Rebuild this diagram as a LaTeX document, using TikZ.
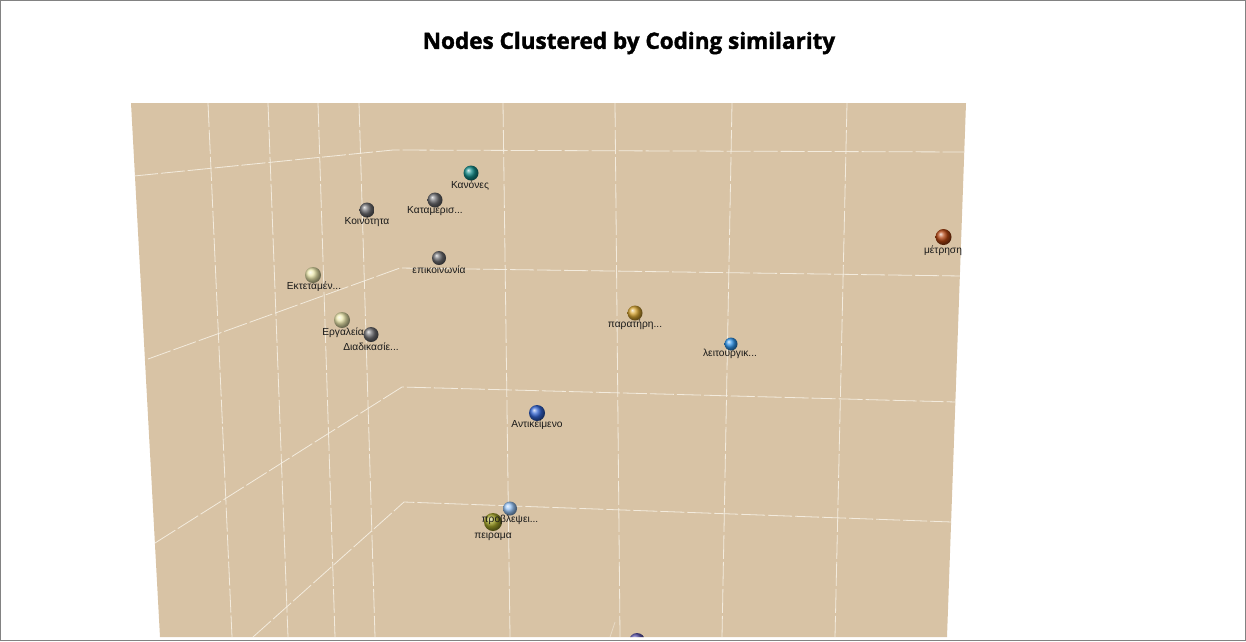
\documentclass[tikz,border=0pt]{standalone}
\usepackage{fontspec}
\setmainfont{Liberation Sans}
\newfontfamily\titlefont{Open Sans}[BoldFont={Open Sans Bold}, BoldFeatures={FakeBold=1.6}]
\definecolor{tanbg}{RGB}{216,195,165}
\definecolor{gridc}{RGB}{246,240,228}
\definecolor{frame}{RGB}{130,130,130}
\definecolor{cteal}{RGB}{20,140,138}
\definecolor{cgray}{RGB}{110,110,114}
\definecolor{cpale}{RGB}{236,232,172}
\definecolor{cgold}{RGB}{215,165,50}
\definecolor{cblue}{RGB}{50,150,235}
\definecolor{cbrown}{RGB}{180,70,18}
\definecolor{croyal}{RGB}{50,100,210}
\definecolor{clight}{RGB}{150,195,245}
\definecolor{colive}{RGB}{165,165,40}
\definecolor{cpurple}{RGB}{95,88,175}
\begin{document}
\begin{tikzpicture}[x=1pt,y=-1pt,
  gridline/.style={draw=gridc, line width=0.8pt, opacity=0.9, dash pattern=on 24pt off 3pt},
  sph/.style={circle, inner sep=0pt, minimum size=#1, ball color=cgray},
  lbl/.style={font=\fontsize{10.2}{11}\selectfont, text=black!90, inner sep=0pt},
  titlestyle/.style={font=\titlefont\bfseries\fontsize{22.5}{25}\selectfont, inner sep=0pt}]
\useasboundingbox (0,0) rectangle (1246,641);
\draw[frame, line width=0.8pt] (0.5,0.5) rectangle (1245.5,640.5);
\node[titlestyle] (title) at (629,43) {Nodes Clustered by Coding similarity};
% panel
\fill[tanbg] (131,103) -- (966,103) -- (947,637) -- (160,637) -- cycle;
\begin{scope}
\clip (131,103) -- (966,103) -- (947,637) -- (160,637) -- cycle;
% left wall verticals
\draw[gridline] (208,103) -- (232,637);
\draw[gridline] (268,103) -- (288,637);
\draw[gridline] (318,103) -- (335,637);
\draw[gridline] (359,103) -- (375,637);
% back wall verticals
\draw[gridline] (503,103) -- (510,637);
\draw[gridline] (615,103) -- (620,637);
\draw[gridline] (732,103) -- (722,637);
\draw[gridline] (847,103) -- (835,637);
% horizontals
\draw[gridline] (134,176) -- (393,150) -- (966,152);
\draw[gridline] (148,359) -- (400,268) -- (962,276);
\draw[gridline] (155,543) -- (402,387) -- (956,402);
\draw[gridline] (253,637) -- (404,502) -- (952,522);
\draw[gridline, opacity=0.5] (610,637) -- (615,622);
% bottom sphere (clipped)
\node[sph=16pt, ball color=cpurple] (bot) at (637,641) {};
\end{scope}
% spheres and labels
\node[sph=15pt, ball color=cteal] (kan) at (471,173) {};
\node[lbl] (kanl) at (470,186) {Κανόνες};
\node[sph=15pt] (kat) at (435,200) {};
\node[lbl] (katl) at (435,211.5) {Καταμερισ...};
\node[sph=15pt] (koi) at (367,210) {};
\node[lbl] (koil) at (367,222) {Κοινότητα};
\node[sph=14pt] (epi) at (439,258) {};
\node[lbl] (epil) at (439,269.5) {επικοινωνία};
\node[sph=16pt, ball color=cpale] (ekt) at (313,275) {};
\node[lbl] (ektl) at (314,287) {Εκτεταμέν...};
\node[sph=16pt, ball color=cpale] (erg) at (342,320) {};
\node[lbl] (ergl) at (343,333) {Εργαλεία};
\node[sph=15pt] (dia) at (371,334.5) {};
\node[lbl] (dial) at (371,347) {Διαδικασίε...};
\node[sph=15pt, ball color=cgold] (par) at (635,313) {};
\node[lbl] (parl) at (635,325) {παρατήρη...};
\node[sph=13pt, ball color=cblue] (lei) at (731,344) {};
\node[lbl] (leil) at (730,353.5) {λειτουργικ...};
\node[sph=16pt, ball color=cbrown] (met) at (943.5,237) {};
\node[lbl] (metl) at (943,251) {μέτρηση};
\node[sph=16pt, ball color=croyal] (ant) at (537,413) {};
\node[lbl] (antl) at (537,425) {Αντικείμενο};
\node[sph=18pt, ball color=colive] (pei) at (493,522) {};
\node[sph=14pt, ball color=clight] (pro) at (510,508.5) {};
\node[lbl] (prol) at (510,520) {προβλεψει...};
\node[lbl] (peil) at (493,536.5) {πειραμα};
\end{tikzpicture}
\end{document}
